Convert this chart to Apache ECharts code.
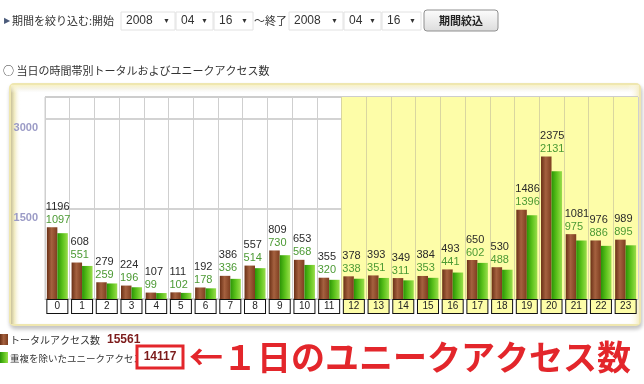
<!DOCTYPE html>
<html><head><meta charset="utf-8">
<script src="https://cdn.jsdelivr.net/npm/echarts@6/dist/echarts.min.js"></script>
<style>html,body{margin:0;padding:0;background:#fff}#c{width:644px;height:384px}</style>
</head><body><div id="c"></div>
<script>
const hours = ['0','1','2','3','4','5','6','7','8','9','10','11','12','13','14','15','16','17','18','19','20','21','22','23'];
const totalAccess = [1196,608,279,224,107,111,192,386,557,809,653,355,378,393,349,384,493,650,530,1486,2375,1081,976,989];
const uniqueAccess = [1097,551,259,196,99,102,178,336,514,730,568,320,338,351,311,353,441,602,488,1396,2131,975,886,895];
const yTickValues = [1500, 3000];
const totalSum = '15561';
const uniqueSum = '14117';
const pmFirstHour = 12;

const JP = '"Noto Sans CJK JP", sans-serif';
const NUM = '"Liberation Sans", Arial, sans-serif';

const chart = echarts.init(document.getElementById('c'), null, {renderer: 'canvas'});

const areaColors = hours.map((h, i) => i >= pmFirstHour ? '#fdfda8' : 'rgba(255,255,255,0)');
const vLineColors = hours.map((h, i) => i >= pmFirstHour ? '#d9d6a0' : '#cfcfcf');

const brownGrad = new echarts.graphic.LinearGradient(0, 0, 1, 0, [
  {offset: 0, color: '#6a3016'}, {offset: 0.45, color: '#a5613f'}, {offset: 1, color: '#7d3d1f'}]);
const greenGrad = new echarts.graphic.LinearGradient(0, 0, 1, 0, [
  {offset: 0, color: '#2a9406'}, {offset: 0.5, color: '#5cc21c'}, {offset: 1, color: '#9ade4c'}]);

function selectBox(x, w, label) {
  return [
    {type: 'rect', shape: {x: x, y: 12, width: w, height: 18}, style: {fill: '#fff', stroke: '#e2e2e2', lineWidth: 1}},
    {type: 'text', x: x + 5, y: 21, style: {text: label, font: '12px ' + NUM, fill: '#333', verticalAlign: 'middle'}},
    {type: 'text', x: x + w - 12, y: 21, style: {text: '▼', font: '7px ' + NUM, fill: '#333', verticalAlign: 'middle'}}
  ];
}

const graphics = [
  // header
  {type: 'text', x: 4, y: 21, style: {text: '▶', font: '8px ' + NUM, fill: '#4a5a7a', verticalAlign: 'middle'}},
  {type: 'text', x: 12, y: 21, style: {text: '期間を絞り込む:開始', font: '11px ' + JP, fill: '#333', verticalAlign: 'middle'}},
  ...selectBox(121, 54, '2008'), ...selectBox(176, 37, '04'), ...selectBox(214, 39, '16'),
  {type: 'text', x: 254, y: 21, style: {text: '～終了', font: '11px ' + JP, fill: '#333', verticalAlign: 'middle'}},
  ...selectBox(289, 54, '2008'), ...selectBox(344, 37, '04'), ...selectBox(382, 39, '16'),
  {type: 'rect', shape: {x: 424, y: 10, width: 74, height: 21, r: 3},
    style: {fill: new echarts.graphic.LinearGradient(0, 0, 0, 1, [{offset: 0, color: '#fdfdfd'}, {offset: 1, color: '#dcdcdc'}]), stroke: '#8f8f8f', lineWidth: 1}},
  {type: 'text', x: 461, y: 21, style: {text: '期間絞込', font: 'bold 11px ' + JP, fill: '#222', align: 'center', verticalAlign: 'middle'}},
  // chart title
  {type: 'text', x: 3, y: 71, style: {text: '○ 当日の時間帯別トータルおよびユニークアクセス数', font: '11px ' + JP, fill: '#333', verticalAlign: 'middle'}},
  // panel
  {type: 'rect', z: -20, shape: {x: 10, y: 84, width: 630, height: 241, r: 4},
    style: {fill: '#fff', stroke: '#efe7b0', lineWidth: 2, shadowBlur: 4, shadowOffsetX: 1, shadowOffsetY: 3, shadowColor: 'rgba(0,0,0,0.22)'}},
  {type: 'rect', z: -19, shape: {x: 11, y: 85, width: 10, height: 239},
    style: {fill: new echarts.graphic.LinearGradient(0, 0, 1, 0, [{offset: 0, color: '#c9c29a'}, {offset: 0.35, color: '#f1ebc2'}, {offset: 1, color: 'rgba(255,255,255,0)'}])}},
  {type: 'rect', z: -19, shape: {x: 11, y: 85, width: 628, height: 8},
    style: {fill: new echarts.graphic.LinearGradient(0, 0, 0, 1, [{offset: 0, color: '#f8f1c4'}, {offset: 1, color: 'rgba(255,255,255,0)'}])}},
  {type: 'rect', z: -19, shape: {x: 628, y: 85, width: 11, height: 239},
    style: {fill: new echarts.graphic.LinearGradient(0, 0, 1, 0, [{offset: 0, color: 'rgba(255,255,255,0)'}, {offset: 1, color: '#f6efc8'}])}},
  // legend
  {type: 'rect', shape: {x: 0, y: 334, width: 8, height: 11}, style: {fill: brownGrad}},
  {type: 'text', x: 10, y: 340, style: {text: 'トータルアクセス数', font: '10px ' + JP, fill: '#333', verticalAlign: 'middle'}},
  {type: 'text', x: 107, y: 340, style: {text: totalSum, font: 'bold 12px ' + NUM, fill: '#7c1b1b', verticalAlign: 'middle'}},
  {type: 'rect', shape: {x: 0, y: 352, width: 8, height: 11}, style: {fill: greenGrad}},
  {type: 'text', x: 10, y: 358, style: {text: '重複を除いたユニークアクセス数', font: '9.5px ' + JP, fill: '#333', verticalAlign: 'middle'}},
  {type: 'rect', shape: {x: 137, y: 346, width: 46, height: 22}, style: {fill: '#fff', stroke: '#e3262b', lineWidth: 3}},
  {type: 'text', x: 160, y: 357, style: {text: uniqueSum, font: 'bold 12px ' + NUM, fill: '#7c1b1b', align: 'center', verticalAlign: 'middle'}},
  {type: 'text', x: 189, y: 357, style: {text: '←１日のユニークアクセス数', font: 'bold 34px ' + JP, fill: '#e3262b', verticalAlign: 'middle'}}
];

chart.setOption({
  animation: false,
  grid: {left: 45, right: 6, top: 97, bottom: 85, show: true, borderColor: '#cfcfcf', borderWidth: 1, backgroundColor: 'transparent'},
  xAxis: {
    type: 'category', data: hours,
    axisLine: {show: true, lineStyle: {color: '#bdbdbd'}},
    axisTick: {show: false},
    splitLine: {show: true, interval: 0, lineStyle: {color: vLineColors, width: 1}},
    splitArea: {show: true, interval: 0, areaStyle: {color: areaColors}},
    axisLabel: {
      interval: 0, margin: 1,
      formatter: (v, i) => (i >= pmFirstHour ? '{y|' + v + '}' : '{w|' + v + '}'),
      rich: {
        w: {width: 20, height: 13, align: 'center', backgroundColor: '#fff', borderColor: '#111', borderWidth: 1, fontSize: 10, fontFamily: NUM, color: '#222'},
        y: {width: 20, height: 13, align: 'center', backgroundColor: '#fdfda8', borderColor: '#111', borderWidth: 1, fontSize: 10, fontFamily: NUM, color: '#222'}
      }
    }
  },
  yAxis: {
    type: 'value', min: 0, max: 3367, interval: 1500,
    axisLine: {show: false}, axisTick: {show: false},
    splitLine: {show: true, lineStyle: {color: '#c4c4c4', width: 1.5}},
    axisLabel: {
      showMinLabel: false, showMaxLabel: false, margin: 7,
      verticalAlign: 'top', padding: [3, 0, 0, 0],
      color: '#9b9bc6', fontSize: 11, fontWeight: 'bold', fontFamily: NUM,
      formatter: v => (yTickValues.indexOf(v) >= 0 ? String(v) : '')
    }
  },
  series: [
    {
      name: 'トータルアクセス数', type: 'bar', data: totalAccess, barWidth: 10.5, barGap: '0%',
      itemStyle: {color: brownGrad},
      label: {
        show: true, position: [-1, -1], align: 'left', verticalAlign: 'bottom',
        formatter: p => '{t|' + totalAccess[p.dataIndex] + '}\n{u|' + uniqueAccess[p.dataIndex] + '}',
        rich: {
          t: {color: '#2a2a2a', fontSize: 11, lineHeight: 13, fontFamily: NUM},
          u: {color: '#4c9a34', fontSize: 11, lineHeight: 13, fontFamily: NUM}
        }
      }
    },
    {
      name: '重複を除いたユニークアクセス数', type: 'bar', data: uniqueAccess, barWidth: 10.5, barGap: '0%',
      itemStyle: {color: greenGrad}
    }
  ],
  graphic: graphics
});
</script></body></html>
